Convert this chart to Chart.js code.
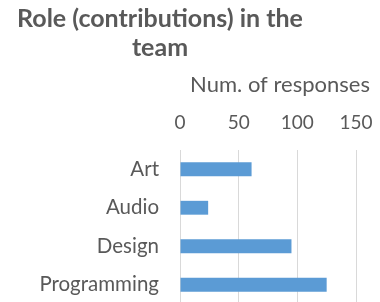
<!DOCTYPE html>
<html>
<head>
<meta charset="utf-8">
<script src="https://cdn.jsdelivr.net/npm/chart.js@4"></script>
<style>
  html, body { margin: 0; padding: 0; background: #fff; overflow: hidden; }
  #wrap { width: 380px; height: 304px; }
</style>
</head>
<body>
<div id="wrap"><canvas id="roleChart" width="380" height="304"></canvas></div>
<script>
// Role (contributions) in the team -- horizontal bar chart

// chart data
const roles = ['Art', 'Audio', 'Design', 'Programming'];
const responses = [61, 24, 95, 125];
const xTicks = [0, 50, 100, 150];
const titleLines = ['Role (contributions) in the', 'team'];
const axisTitle = 'Num. of responses';

const textGray = '#595959';
const fontFamily = 'Lato, "Open Sans", sans-serif';

// draws the chart title and the x axis title at fixed spots
// (Excel puts them off-centre, Chart.js title can't do that)
const titlesPlugin = {
  id: 'titles',
  afterDraw(chart) {
    const ctx = chart.ctx;
    ctx.save();
    ctx.fillStyle = textGray;
    ctx.textAlign = 'center';
    ctx.textBaseline = 'alphabetic';
    ctx.font = 'bold 25px ' + fontFamily;
    ctx.fillText(titleLines[0], 160, 27);
    ctx.fillText(titleLines[1], 160, 56);
    ctx.font = '22px ' + fontFamily;
    ctx.fillText(axisTitle, 280, 92);
    ctx.restore();
  }
};

new Chart(document.getElementById('roleChart'), {
  type: 'bar',
  data: {
    labels: roles,
    datasets: [{
      label: axisTitle,
      data: responses,
      backgroundColor: '#5B9BD5',
      borderWidth: 0,
      barPercentage: 0.36,
      categoryPercentage: 1
    }]
  },
  options: {
    indexAxis: 'y',
    responsive: false,
    animation: false,
    layout: { padding: { top: 0, right: 24, bottom: 0, left: 0 } },
    plugins: {
      legend: { display: false },
      tooltip: { enabled: false }
    },
    scales: {
      x: {
        position: 'top',
        min: 0,
        max: 150,
        afterBuildTicks(scale) {
          scale.ticks = xTicks.map(v => ({ value: v }));
        },
        // fixed box, and no extra room for the end labels
        afterFit(scale) {
          scale.height = 150;
          scale.paddingLeft = 0;
          scale.paddingRight = 0;
        },
        border: { display: false },
        grid: { color: '#D9D9D9', lineWidth: 1, drawTicks: false },
        ticks: {
          color: textGray,
          padding: 16,
          font: { family: fontFamily, size: 19 }
        }
      },
      y: {
        afterFit(scale) {
          scale.width = 180;
          scale.paddingTop = 0;
          scale.paddingBottom = 0;
        },
        border: { display: false },
        grid: { display: false, drawTicks: false },
        ticks: {
          color: textGray,
          padding: 21,
          font: { family: fontFamily, size: 20.5 }
        }
      }
    }
  },
  plugins: [titlesPlugin]
});
</script>
</body>
</html>
